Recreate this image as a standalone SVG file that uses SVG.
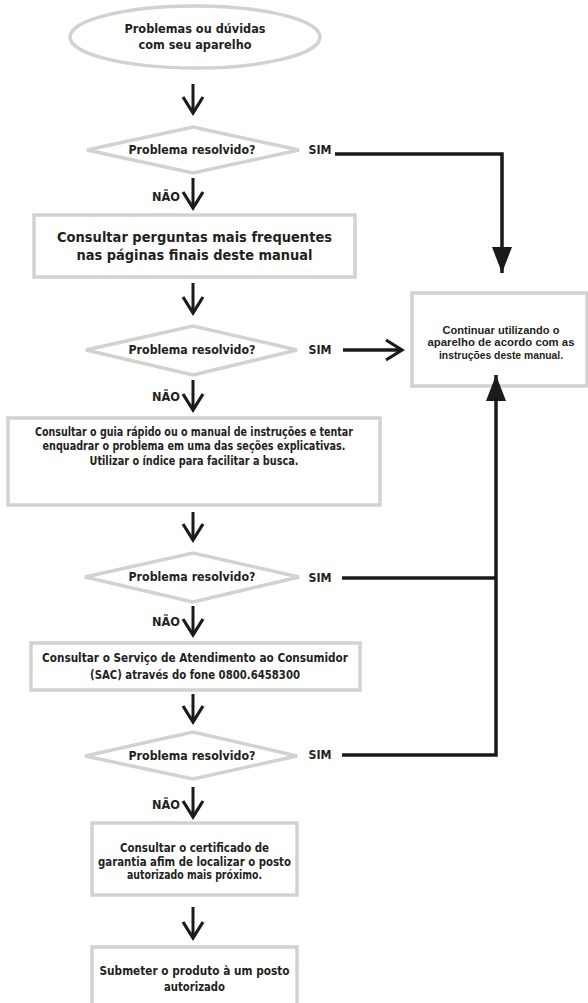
<svg xmlns="http://www.w3.org/2000/svg" width="588" height="1003" viewBox="0 0 588 1003">
<style>
.shape{fill:#fff;stroke:#d2d2d2;stroke-width:3.5}
.t{font-family:"DejaVu Sans",Verdana,sans-serif;font-weight:bold;fill:#231f20;text-anchor:middle}
.s11{font-size:12px}
.s13{font-size:14.5px}
.a{font-family:"Liberation Sans",Arial,sans-serif;font-size:11px;font-weight:bold;fill:#231f20;text-anchor:middle}
.c{stroke:#1a1a1a;stroke-width:3.5;fill:none}
.v{stroke:#1a1a1a;stroke-width:3;fill:none}
</style>
<defs>
<marker id="chev" markerUnits="userSpaceOnUse" markerWidth="24" markerHeight="24" viewBox="0 0 24 24" refX="19" refY="12" orient="auto">
<path d="M3,2 L19,12 L3,22" fill="none" stroke="#1a1a1a" stroke-width="3.2"/>
</marker>
<marker id="tri" markerUnits="userSpaceOnUse" markerWidth="28" markerHeight="24" viewBox="0 0 28 24" refX="26" refY="12" orient="auto">
<path d="M0,2 L26,12 L0,22 z" fill="#1a1a1a"/>
</marker>
</defs>

<g id="start">
<ellipse class="shape" cx="195" cy="37" rx="125" ry="31"/>
<text class="t s11" x="195" y="33" textLength="141" lengthAdjust="spacingAndGlyphs">Problemas ou dúvidas</text>
<text class="t s11" x="195" y="49" textLength="113" lengthAdjust="spacingAndGlyphs">com seu aparelho</text>
</g>

<g id="dec1">
<polygon class="shape" points="87,150 193,127 299,150 193,173"/>
<text class="t s11" x="192" y="154" textLength="127" lengthAdjust="spacingAndGlyphs">Problema resolvido?</text>
</g>

<g id="box2">
<rect class="shape" x="34" y="215" width="321" height="62"/>
<text class="t s13" x="194.5" y="242" textLength="275" lengthAdjust="spacingAndGlyphs">Consultar perguntas mais frequentes</text>
<text class="t s13" x="194.5" y="260" textLength="236" lengthAdjust="spacingAndGlyphs">nas páginas finais deste manual</text>
</g>

<g id="dec2">
<polygon class="shape" points="86,350 193,326 297,350 193,375"/>
<text class="t s11" x="192" y="354" textLength="127" lengthAdjust="spacingAndGlyphs">Problema resolvido?</text>
</g>

<g id="box3">
<rect class="shape" x="8" y="418" width="372" height="87"/>
<text class="t s11" x="194" y="436" textLength="318" lengthAdjust="spacingAndGlyphs">Consultar o guia rápido ou o manual de instruções e tentar</text>
<text class="t s11" x="194" y="450" textLength="303" lengthAdjust="spacingAndGlyphs">enquadrar o problema em uma das seções explicativas.</text>
<text class="t s11" x="194" y="465" textLength="209" lengthAdjust="spacingAndGlyphs">Utilizar o índice para facilitar a busca.</text>
</g>

<g id="dec3">
<polygon class="shape" points="85,577 193,553 299,577 193,602"/>
<text class="t s11" x="192" y="581" textLength="127" lengthAdjust="spacingAndGlyphs">Problema resolvido?</text>
</g>

<g id="box4">
<rect class="shape" x="31" y="643" width="329" height="47"/>
<text class="t s11" x="195" y="662" textLength="306" lengthAdjust="spacingAndGlyphs">Consultar o Serviço de Atendimento ao Consumidor</text>
<text class="t s11" x="195" y="679" textLength="210" lengthAdjust="spacingAndGlyphs">(SAC) através do fone 0800.6458300</text>
</g>

<g id="dec4">
<polygon class="shape" points="85,756 193,732 297,756 193,779"/>
<text class="t s11" x="192" y="760" textLength="127" lengthAdjust="spacingAndGlyphs">Problema resolvido?</text>
</g>

<g id="box5">
<rect class="shape" x="92" y="823" width="205" height="72"/>
<text class="t s11" x="194.5" y="852" textLength="149" lengthAdjust="spacingAndGlyphs">Consultar o certificado de</text>
<text class="t s11" x="194.5" y="866" textLength="193" lengthAdjust="spacingAndGlyphs">garantia afim de localizar o posto</text>
<text class="t s11" x="194.5" y="879" textLength="135" lengthAdjust="spacingAndGlyphs">autorizado mais próximo.</text>
</g>

<g id="box6">
<rect class="shape" x="92" y="947" width="205" height="70"/>
<text class="t s11" x="194.5" y="975" textLength="190" lengthAdjust="spacingAndGlyphs">Submeter o produto à um posto</text>
<text class="t s11" x="194.5" y="991" textLength="61" lengthAdjust="spacingAndGlyphs">autorizado</text>
</g>

<g id="end">
<rect class="shape" x="412" y="293" width="175" height="93"/>
<text class="a" x="501" y="334" textLength="117" lengthAdjust="spacingAndGlyphs">Continuar utilizando o</text>
<text class="a" x="501" y="346" textLength="147" lengthAdjust="spacingAndGlyphs">aparelho de acordo com as</text>
<text class="a" x="501" y="359" textLength="124" lengthAdjust="spacingAndGlyphs">instruções deste manual.</text>
</g>

<g id="labels">
<text class="t s11" x="320" y="154" textLength="23" lengthAdjust="spacingAndGlyphs">SIM</text>
<text class="t s11" x="320" y="354" textLength="23" lengthAdjust="spacingAndGlyphs">SIM</text>
<text class="t s11" x="320" y="582" textLength="23" lengthAdjust="spacingAndGlyphs">SIM</text>
<text class="t s11" x="320" y="759" textLength="23" lengthAdjust="spacingAndGlyphs">SIM</text>
<text class="t s11" x="166" y="201" textLength="28" lengthAdjust="spacingAndGlyphs">NÃO</text>
<text class="t s11" x="166" y="401" textLength="28" lengthAdjust="spacingAndGlyphs">NÃO</text>
<text class="t s11" x="166" y="626" textLength="28" lengthAdjust="spacingAndGlyphs">NÃO</text>
<text class="t s11" x="166" y="809" textLength="28" lengthAdjust="spacingAndGlyphs">NÃO</text>
</g>

<g id="connectors">
<line class="v" x1="193" y1="84" x2="193" y2="113" marker-end="url(#chev)"/>
<line class="v" x1="193" y1="178" x2="193" y2="208" marker-end="url(#chev)"/>
<line class="v" x1="193" y1="283" x2="193" y2="313" marker-end="url(#chev)"/>
<line class="v" x1="193" y1="380" x2="193" y2="410" marker-end="url(#chev)"/>
<line class="v" x1="193" y1="512" x2="193" y2="540" marker-end="url(#chev)"/>
<line class="v" x1="193" y1="606" x2="193" y2="635" marker-end="url(#chev)"/>
<line class="v" x1="193" y1="694" x2="193" y2="722" marker-end="url(#chev)"/>
<line class="v" x1="193" y1="787" x2="193" y2="817" marker-end="url(#chev)"/>
<line class="v" x1="193" y1="907" x2="193" y2="938" marker-end="url(#chev)"/>
<polyline class="c" points="335,154 502,154 502,273" marker-end="url(#tri)"/>
<line class="c" x1="343" y1="350" x2="402" y2="350" marker-end="url(#chev)"/>
<line class="c" x1="342" y1="578" x2="496" y2="578"/>
<polyline class="c" points="342,755 496,755 496,375" marker-end="url(#tri)"/>
</g>
</svg>
